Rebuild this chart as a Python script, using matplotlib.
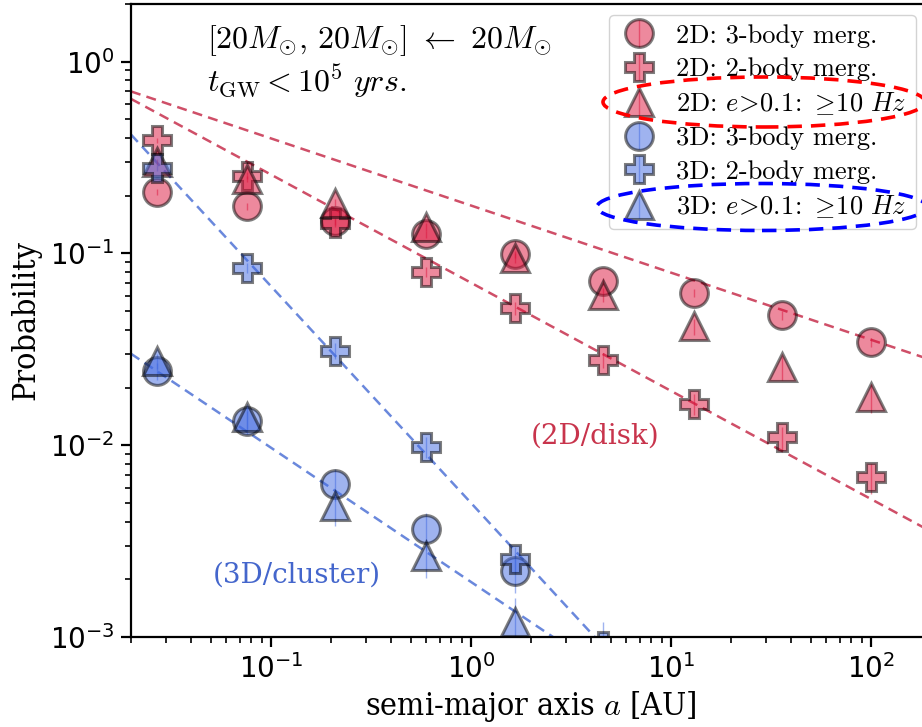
import numpy as np
import matplotlib
matplotlib.use("Agg")
import matplotlib.pyplot as plt
from matplotlib.patches import Ellipse

# semi-major axis bins [AU]
a_2d = [0.027, 0.076, 0.21, 0.6, 1.67, 4.6, 13.0, 36.0, 100.0]
a_3d = [0.027, 0.076, 0.21, 0.6, 1.67, 4.6]

# 2D (disk) probabilities
p2d_3body = [0.21, 0.176, 0.147, 0.126, 0.099, 0.0715, 0.062, 0.0475, 0.0344]
p2d_2body = [0.39, 0.255, 0.145, 0.080, 0.052, 0.0277, 0.0164, 0.011, 0.0068]
p2d_ecc = [0.30, 0.246, 0.184, 0.138, 0.095, 0.061, 0.0417, 0.0255, 0.0178]
e2d_3body = [0.008, 0.007, 0.006, 0.005, 0.004, 0.003, 0.003, 0.0025, 0.002]
e2d_2body = [0.012, 0.010, 0.007, 0.005, 0.004, 0.0025, 0.002, 0.0015, 0.0012]
e2d_ecc = [0.010, 0.009, 0.008, 0.007, 0.006, 0.005, 0.004, 0.0035, 0.003]

# 3D (cluster) probabilities
p3d_3body = [0.0243, 0.0133, 0.0063, 0.00365, 0.0022]
p3d_2body = [0.28, 0.0845, 0.031, 0.0098, 0.00255, 0.0009]
p3d_ecc = [0.0274, 0.014, 0.0048, 0.00264, 0.0012]
e3d_3body = [0.0025, 0.0018, 0.0012, 0.0008, 0.0005]
e3d_2body = [0.010, 0.005, 0.003, 0.0012, 0.0004, 0.0003]
e3d_ecc = [0.0025, 0.0018, 0.0010, 0.0006, 0.0004]

# power-law guide lines: P = amp * (a / 0.02)**slope
fit_a0 = 0.02
fit_2d_amp = [0.70, 0.64]
fit_2d_slope = [-0.35, -0.564]
fit_3d_amp = [0.417, 0.030]
fit_3d_slope = [-1.13, -0.70]

RED = "crimson"
BLUE = "royalblue"

plt.rcParams["font.family"] = "DejaVu Sans"
plt.rcParams["mathtext.fontset"] = "dejavusans"
plt.rcParams["axes.unicode_minus"] = False

W, H = 922, 727
fig = plt.figure(figsize=(W / 100, H / 100), dpi=100)
ax = fig.add_axes([131 / W, 1 - 637 / H, 800 / W, 633 / H])

xs = np.logspace(np.log10(0.02), np.log10(200), 200)
for amp, sl in zip(fit_2d_amp, fit_2d_slope):
    ax.plot(xs, amp * (xs / fit_a0) ** sl, color="#cf4f68", lw=1.8,
            ls=(0, (4, 2.5)), zorder=1)
for amp, sl in zip(fit_3d_amp, fit_3d_slope):
    ax.plot(xs, amp * (xs / fit_a0) ** sl, color="#6a88dc", lw=1.8,
            ls=(0, (4, 2.5)), zorder=1)

ms = 20
kw = dict(ls="none", markeredgecolor="k", markeredgewidth=2.2, alpha=0.5,
          elinewidth=1.0, capsize=0)
ax.errorbar(a_2d, p2d_3body, yerr=e2d_3body, marker="o", ms=ms, color=RED,
            label="2D: 3-body merg.", **kw)
ax.errorbar(a_2d, p2d_2body, yerr=e2d_2body, marker="P", ms=ms, color=RED,
            label="2D: 2-body merg.", **kw)
ax.errorbar(a_2d, p2d_ecc, yerr=e2d_ecc, marker="^", ms=ms, color=RED,
            label=r"2D: $e\!>\!0.1\!:\,\geq\!10\ Hz$", **kw)
ax.errorbar(a_3d[:5], p3d_3body, yerr=e3d_3body, marker="o", ms=ms, color=BLUE,
            label="3D: 3-body merg.", **kw)
ax.errorbar(a_3d, p3d_2body, yerr=e3d_2body, marker="P", ms=ms, color=BLUE,
            label="3D: 2-body merg.", **kw)
ax.errorbar(a_3d[:5], p3d_ecc, yerr=e3d_ecc, marker="^", ms=ms, color=BLUE,
            label=r"3D: $e\!>\!0.1\!:\,\geq\!10\ Hz$", **kw)

ax.set_xscale("log")
ax.set_yscale("log")
ax.set_xlim(0.02, 200)
ax.set_ylim(1e-3, 2)

for s in ax.spines.values():
    s.set_linewidth(1.6)
ax.tick_params(which="major", length=7, width=1.6, labelsize=20, pad=5)
ax.tick_params(which="minor", length=4, width=1.2)

lab_font = dict(family="DejaVu Serif", stretch="condensed", size=23)
ax.set_xlabel(r"semi-major axis $a$ [AU]", fontdict=lab_font, labelpad=4)
ax.set_ylabel("Probability", fontdict=lab_font, labelpad=6)
ax.xaxis.label.set_math_fontfamily("cm")

t1 = ax.text(0.095, 0.943, r"$[20M_{\odot},\, 20M_{\odot}]\ \leftarrow\ 20M_{\odot}$",
             transform=ax.transAxes, fontsize=23, va="center")
t2 = ax.text(0.095, 0.878, r"$t_{\rm GW} < 10^5\ yrs.$",
             transform=ax.transAxes, fontsize=23, va="center")
for t in (t1, t2):
    t.set_math_fontfamily("cm")

ax.text(0.580, 0.318, "(2D/disk)", transform=ax.transAxes, color="#c8344c",
        fontsize=20, family="DejaVu Serif", ha="center", va="center")
ax.text(0.207, 0.097, "(3D/cluster)", transform=ax.transAxes, color="#4466cc",
        fontsize=20, family="DejaVu Serif", ha="center", va="center")

leg = ax.legend(loc="upper right", bbox_to_anchor=(0.981, 0.983),
                borderaxespad=0, prop=dict(family="cmr10", size=19),
                labelspacing=0.36, handletextpad=0.6, borderpad=0.35,
                handlelength=1.6, framealpha=0.85, edgecolor="#cccccc")
for t in leg.get_texts():
    t.set_math_fontfamily("cm")

# highlight ellipses around the eccentric entries
fig.patches.append(Ellipse((764 / W, 1 - 102 / H), 322 / W, 50 / H,
                           transform=fig.transFigure, fill=False, ec="red",
                           lw=2.6, ls=(0, (4, 2.5)), zorder=10))
fig.patches.append(Ellipse((762 / W, 1 - 207 / H), 330 / W, 47 / H,
                           transform=fig.transFigure, fill=False, ec="blue",
                           lw=2.6, ls=(0, (4, 2.5)), zorder=10))

fig.savefig("out.png", dpi=100)
